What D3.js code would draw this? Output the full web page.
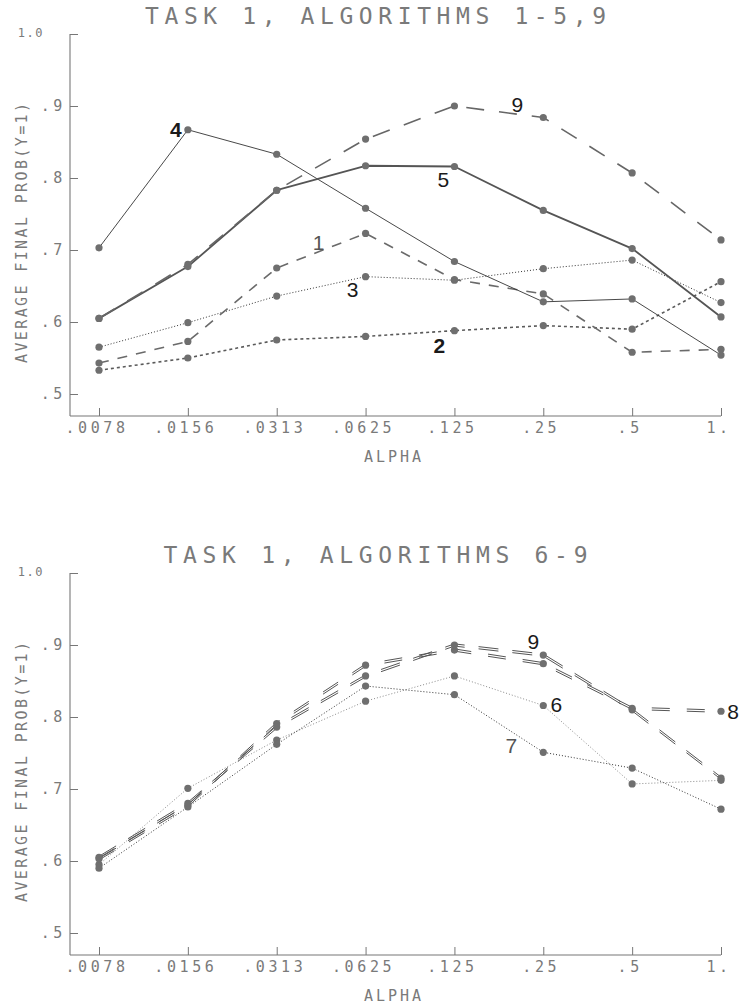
<!DOCTYPE html>
<html><head><meta charset="utf-8">
<script src="https://cdn.jsdelivr.net/npm/d3@7"></script>
<style>body{margin:0;background:#fff}</style>
</head><body>
<svg id="c" width="739" height="1003"></svg>
<script>
// ---- data ----
const alphaLabels = [".0078", ".0156", ".0313", ".0625", ".125", ".25", ".5", "1."];
const yTickValues = [0.5, 0.6, 0.7, 0.8, 0.9, 1.0];
const yTickLabels = [".5", ".6", ".7", ".8", ".9", "1.0"];

const titleTop = "TASK 1, ALGORITHMS 1-5,9";
const titleBottom = "TASK 1, ALGORITHMS 6-9";
const yAxisTitle = "AVERAGE FINAL PROB(Y=1)";
const xAxisTitle = "ALPHA";

// top panel: algorithms 1-5, 9
const alg1 = [0.543, 0.573, 0.675, 0.723, 0.659, 0.639, 0.558, 0.562];
const alg2 = [0.533, 0.550, 0.575, 0.580, 0.588, 0.595, 0.590, 0.656];
const alg3 = [0.565, 0.599, 0.636, 0.663, 0.658, 0.674, 0.686, 0.627];
const alg4 = [0.703, 0.867, 0.833, 0.758, 0.684, 0.628, 0.632, 0.554];
const alg5 = [0.605, 0.677, 0.783, 0.817, 0.816, 0.755, 0.702, 0.607];
const alg9Top = [0.605, 0.680, 0.783, 0.854, 0.900, 0.884, 0.807, 0.714];

// bottom panel: algorithms 6-9
const alg6 = [0.595, 0.701, 0.768, 0.822, 0.857, 0.816, 0.707, 0.712];
const alg7 = [0.590, 0.675, 0.762, 0.843, 0.831, 0.751, 0.729, 0.672];
const alg8 = [0.603, 0.677, 0.791, 0.872, 0.893, 0.874, 0.812, 0.808];
const alg9Bottom = [0.605, 0.680, 0.786, 0.857, 0.900, 0.886, 0.810, 0.715];

// ---- styles ----
const styles = {
  "1": {color: "#6a6a6a", width: 1.6, dash: "10,9", dbl: false},
  "2": {color: "#5a5a5a", width: 1.6, dash: "3,3", dbl: false},
  "3": {color: "#333", width: 1, dash: "1,2", dbl: false},
  "4": {color: "#333", width: 0.9, dash: null, dbl: false},
  "5": {color: "#555", width: 1.8, dash: null, dbl: false},
  "9t": {color: "#666", width: 1.6, dash: "18,15", dbl: false},
  "6": {color: "#8a8a8a", width: 1, dash: "1,2", dbl: false},
  "7": {color: "#333", width: 1, dash: "1,2", dbl: false},
  "8": {color: "#555", width: 1, dash: "18,17", dbl: true},
  "9b": {color: "#555", width: 1, dash: "20,14", dbl: true}
};

const topSeries = [
  {key: "3", values: alg3}, {key: "2", values: alg2}, {key: "1", values: alg1},
  {key: "4", values: alg4}, {key: "5", values: alg5}, {key: "9t", values: alg9Top}
];
const bottomSeries = [
  {key: "6", values: alg6}, {key: "7", values: alg7},
  {key: "8", values: alg8}, {key: "9b", values: alg9Bottom}
];

const topLabels = [
  {text: "4", key: "4", i: 1, dx: -12, dy: 0, w: 700},
  {text: "9", key: "9t", i: 5, dx: -26, dy: -13, w: 400},
  {text: "5", key: "5", i: 4, dx: -11, dy: 12.5, w: 400},
  {text: "1", key: "1", i: 3, dx: -47, dy: 9, w: 400, c: "#555"},
  {text: "3", key: "3", i: 3, dx: -13, dy: 13, w: 400},
  {text: "2", key: "2", i: 4, dx: -15, dy: 14.5, w: 700}
];
const bottomLabels = [
  {text: "9", key: "9b", i: 5, dx: -10, dy: -14, w: 400},
  {text: "6", key: "6", i: 5, dx: 13, dy: -1, w: 400},
  {text: "7", key: "7", i: 5, dx: -32, dy: -7, w: 400, c: "#555"},
  {text: "8", key: "8", i: 7, dx: 12, dy: 0, w: 400}
];

const svg = d3.select("#c");
const monoFont = "'DejaVu Sans Mono', 'Liberation Mono', monospace";
const textGrey = "#7a7a7a";
const x = d3.scalePoint().domain(alphaLabels).range([99, 721]);

function panel(top, title, titleX, titleLen, series, labels) {
  const y = d3.scaleLinear().domain([0.5, 1.0]).range([top + 360, top]);
  const axisY = top + 382;
  const g = svg.append("g");

  // title
  g.append("text").attr("x", titleX).attr("y", top - 18 + 8.4)
    .attr("textLength", titleLen).attr("lengthAdjust", "spacing")
    .attr("font-family", monoFont).attr("font-size", 23).attr("fill", textGrey)
    .text(title);

  // y axis
  const ya = g.append("g").attr("transform", "translate(70,0)")
    .call(d3.axisLeft(y).tickValues(yTickValues).tickFormat((d, i) => yTickLabels[i])
      .tickSize(-8).tickSizeOuter(0).tickPadding(4));
  ya.select(".domain").remove();
  ya.selectAll("line").attr("stroke", "#777").attr("stroke-width", 1);
  ya.selectAll("text").attr("font-family", monoFont).attr("font-size", 15)
    .attr("letter-spacing", 3.6).attr("fill", textGrey);
  ya.selectAll(".tick").filter(d => d === 1.0).select("text")
    .attr("font-size", 12).attr("letter-spacing", 1.5).attr("x", -26).attr("dy", "0.2em");

  // x axis
  const xa = g.append("g").attr("transform", `translate(0,${axisY})`)
    .call(d3.axisBottom(x).tickSize(-8).tickSizeOuter(0).tickPadding(6));
  xa.select(".domain").remove();
  xa.selectAll("line").attr("stroke", "#777").attr("stroke-width", 1);
  xa.selectAll("text").attr("font-family", monoFont).attr("font-size", 15)
    .attr("letter-spacing", 3.6).attr("fill", textGrey).attr("dx", -2.5);

  // axis lines
  g.append("line").attr("x1", 70).attr("x2", 70).attr("y1", y(1.0)).attr("y2", axisY)
    .attr("stroke", "#777").attr("stroke-width", 1.1);
  g.append("line").attr("x1", 70).attr("x2", x("1.")).attr("y1", axisY).attr("y2", axisY)
    .attr("stroke", "#777").attr("stroke-width", 1.1);

  // axis titles
  g.append("text").attr("x", 394).attr("y", axisY + 40 + 5.5)
    .attr("text-anchor", "middle").attr("font-family", monoFont).attr("font-size", 15)
    .attr("letter-spacing", 3).attr("fill", textGrey).text(xAxisTitle);
  g.append("text").attr("transform", `translate(26.5,${top + 199}) rotate(-90)`)
    .attr("text-anchor", "middle").attr("textLength", 260).attr("lengthAdjust", "spacing")
    .attr("font-family", monoFont).attr("font-size", 15).attr("fill", textGrey)
    .text(yAxisTitle);

  // series
  const line = d3.line().x((d, i) => x(alphaLabels[i])).y(d => y(d));
  series.forEach(s => {
    const st = styles[s.key];
    const offs = st.dbl ? [-1.1, 1.1] : [0];
    offs.forEach(o => {
      g.append("path").datum(s.values).attr("d", line)
        .attr("transform", `translate(0,${o})`)
        .attr("fill", "none").attr("stroke", st.color).attr("stroke-width", st.width)
        .attr("stroke-dasharray", st.dash).attr("stroke-linejoin", "round");
    });
  });
  series.forEach(s => {
    g.selectAll(null).data(s.values).enter().append("circle")
      .attr("cx", (d, i) => x(alphaLabels[i])).attr("cy", d => y(d)).attr("r", 3.6)
      .attr("fill", "#6f6f6f");
  });

  // series labels
  labels.forEach(l => {
    const s = series.find(q => q.key === l.key);
    g.append("text")
      .attr("x", x(alphaLabels[l.i]) + l.dx).attr("y", y(s.values[l.i]) + l.dy)
      .attr("dy", "0.36em").attr("text-anchor", "middle")
      .attr("font-family", "'Liberation Sans', Arial, sans-serif").attr("font-size", 21)
      .attr("font-weight", l.w).attr("fill", l.c || "#1a1a1a").text(l.text);
  });
}

panel(34, titleTop, 145, 461, topSeries, topLabels);
panel(573, titleBottom, 163.5, 424, bottomSeries, bottomLabels);
</script>
</body></html>
